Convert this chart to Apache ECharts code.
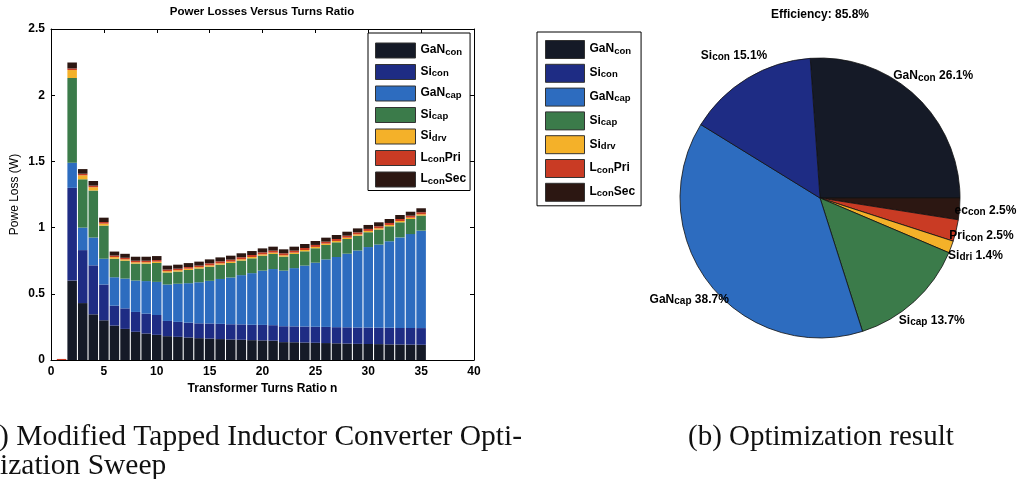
<!DOCTYPE html>
<html><head><meta charset="utf-8">
<script src="https://cdn.jsdelivr.net/npm/echarts@6/dist/echarts.min.js"></script>
<style>html,body{margin:0;padding:0;background:#fff;}#c{width:1026px;height:479px;}</style>
</head><body><div id="c"></div>
<script>
// ---- Data ----
const turnsRatio = [1,2,3,4,5,6,7,8,9,10,11,12,13,14,15,16,17,18,19,20,21,22,23,24,25,26,27,28,29,30,31,32,33,34,35];
const ganCon = [0,0.60,0.43,0.345,0.30,0.26,0.235,0.213,0.20,0.19,0.18,0.175,0.17,0.165,0.162,0.158,0.155,0.153,0.15,0.148,0.146,0.135,0.134,0.132,0.130,0.128,0.126,0.124,0.122,0.121,0.12,0.118,0.117,0.116,0.115];
const siCon = [0,0.70,0.40,0.37,0.27,0.15,0.155,0.15,0.15,0.15,0.115,0.113,0.112,0.112,0.114,0.115,0.115,0.116,0.116,0.117,0.117,0.12,0.12,0.121,0.121,0.122,0.122,0.123,0.123,0.124,0.124,0.125,0.125,0.126,0.126];
const ganCap = [0,0.19,0.17,0.21,0.195,0.215,0.225,0.237,0.246,0.25,0.275,0.288,0.298,0.31,0.322,0.339,0.353,0.372,0.39,0.41,0.424,0.42,0.44,0.46,0.484,0.51,0.53,0.556,0.582,0.608,0.628,0.654,0.684,0.709,0.736];
const siCap = [0,0.64,0.365,0.355,0.25,0.14,0.135,0.128,0.132,0.143,0.091,0.092,0.10,0.104,0.107,0.108,0.11,0.11,0.112,0.113,0.114,0.106,0.107,0.108,0.109,0.109,0.111,0.111,0.112,0.112,0.113,0.113,0.114,0.114,0.114];
const siDrv = [0,0.06,0.03,0.025,0.015,0.012,0.01,0.01,0.01,0.01,0.01,0.01,0.01,0.01,0.01,0.01,0.01,0.01,0.01,0.01,0.01,0.01,0.01,0.01,0.01,0.01,0.01,0.01,0.01,0.01,0.01,0.01,0.01,0.01,0.01];
const lConPri = [0.008,0.012,0.012,0.012,0.012,0.012,0.012,0.012,0.012,0.012,0.012,0.012,0.012,0.012,0.015,0.015,0.015,0.015,0.015,0.015,0.015,0.015,0.015,0.015,0.015,0.015,0.015,0.015,0.015,0.015,0.015,0.015,0.015,0.015,0.015];
const lConSec = [0,0.045,0.035,0.035,0.033,0.03,0.03,0.03,0.03,0.03,0.03,0.03,0.03,0.03,0.03,0.03,0.03,0.03,0.03,0.03,0.03,0.03,0.03,0.03,0.03,0.03,0.03,0.03,0.03,0.03,0.03,0.03,0.03,0.03,0.03];

// x positions 0..40 (labels every 5), y ticks
const xCategories = ['0','1','2','3','4','5','6','7','8','9','10','11','12','13','14','15','16','17','18','19','20','21','22','23','24','25','26','27','28','29','30','31','32','33','34','35','36','37','38','39','40'];
const yTicks = [0, 0.5, 1, 1.5, 2, 2.5];

const seriesNames = ['GaN con','Si con','GaN cap','Si cap','Si drv','L con Pri','L con Sec'];
const seriesArrays = [ganCon, siCon, ganCap, siCap, siDrv, lConPri, lConSec];
const legendRich = {
  'GaN con':'{b|GaN}{s|con}', 'Si con':'{b|Si}{s|con}', 'GaN cap':'{b|GaN}{s|cap}',
  'Si cap':'{b|Si}{s|cap}', 'Si drv':'{b|Si}{s|drv}', 'L con Pri':'{b|L}{s|con}{b|Pri}', 'L con Sec':'{b|L}{s|con}{b|Sec}'
};
const colors = {
  'GaN con':'#151a27','Si con':'#1e2c84','GaN cap':'#2d6cbf','Si cap':'#3b7b4a',
  'Si drv':'#f4b129','L con Pri':'#c93b24','L con Sec':'#2c1712'
};

// Pie (clockwise from top)
const pieNames = ['GaN con','L con Sec','L con Pri','Si drv','Si cap','GaN cap','Si con'];
const pieValues = [26.1, 2.5, 2.5, 1.4, 13.7, 38.7, 15.1];
const pieLabelMain = ['GaN','ec','Pri','Si','Si','GaN','Si'];
const pieLabelSub = ['con','con','con','dri','cap','cap','con'];
const efficiencyText = 'Efficiency: 85.8%';

const FONT = 'Liberation Sans, Arial, Helvetica, sans-serif';
const rich = {
  b:{fontFamily:FONT,fontSize:12,fontWeight:'bold',color:'#000',lineHeight:13,verticalAlign:'top'},
  s:{fontFamily:FONT,fontSize:9.5,fontWeight:'bold',color:'#000',lineHeight:10,verticalAlign:'bottom',padding:[10,0,0,0]}
};
const richPie = {
  b:{fontFamily:FONT,fontSize:12,fontWeight:'bold',color:'#000',lineHeight:13,verticalAlign:'top'},
  s:{fontFamily:FONT,fontSize:10,fontWeight:'bold',color:'#000',lineHeight:10,verticalAlign:'bottom',padding:[10,0,0,0]}
};

const chart = echarts.init(document.getElementById('c'), null, {renderer:'canvas'});

const barSeries = seriesNames.map((nm, k) => ({
  name: nm, type:'bar', stack:'loss', xAxisIndex:0, yAxisIndex:0,
  barWidth:'90%', itemStyle:{color: colors[nm]},
  data: turnsRatio.map((n, i) => [String(n), seriesArrays[k][i]]),
  silent:true
}));

const axisLabelStyle = {color:'#000', fontFamily:FONT, fontSize:12, fontWeight:'bold'};

const option = {
  animation:false,
  backgroundColor:'#fff',
  grid:{left:51, right:552, top:29, bottom:119},
  xAxis:[
    {type:'category', data:xCategories, boundaryGap:false, position:'bottom',
     axisLine:{show:true,onZero:false,lineStyle:{color:'#000',width:1}},
     axisTick:{show:true,inside:true,length:4,interval:4,lineStyle:{color:'#000'}},
     axisLabel:{...axisLabelStyle, margin:6, interval:4},
     splitLine:{show:false},
     name:'Transformer Turns Ratio n', nameLocation:'middle', nameGap:21,
     nameTextStyle:{color:'#000',fontFamily:FONT,fontSize:12,fontWeight:'bold'}},
    {type:'category', data:xCategories, boundaryGap:false, position:'top',
     axisLine:{show:true,onZero:false,lineStyle:{color:'#000',width:1}},
     axisTick:{show:true,inside:true,length:4,interval:4,lineStyle:{color:'#000'}},
     axisLabel:{show:false}, splitLine:{show:false}}
  ],
  yAxis:[
    {type:'value', min:yTicks[0], max:yTicks[yTicks.length-1], interval:0.5, position:'left',
     axisLine:{show:true,lineStyle:{color:'#000',width:1}},
     axisTick:{show:true,inside:true,length:4,lineStyle:{color:'#000'}},
     axisLabel:{...axisLabelStyle, margin:6},
     splitLine:{show:false},
     name:'Powe Loss (W)', nameLocation:'middle', nameGap:30,
     nameTextStyle:{color:'#000',fontFamily:FONT,fontSize:12}},
    {type:'value', min:yTicks[0], max:yTicks[yTicks.length-1], interval:0.5, position:'right',
     axisLine:{show:true,lineStyle:{color:'#000',width:1}},
     axisTick:{show:true,inside:true,length:4,lineStyle:{color:'#000'}},
     axisLabel:{show:false}, splitLine:{show:false}}
  ],
  legend:[
    {orient:'vertical', left:368, top:33, icon:'rect', itemWidth:40, itemHeight:15, itemGap:0,
     padding:[4,4,3,7], borderColor:'#000', borderWidth:1, backgroundColor:'#fff', selectedMode:false,
     data: seriesNames.map(nm => ({name:nm, itemStyle:{color:colors[nm], borderColor:'#333', borderWidth:1}})),
     formatter: nm => legendRich[nm], textStyle:{rich:rich}},
    {orient:'vertical', left:537, top:32, icon:'rect', itemWidth:39, itemHeight:18, itemGap:0.8,
     padding:[4,6,4,8], borderColor:'#000', borderWidth:1, backgroundColor:'#fff', selectedMode:false,
     data: seriesNames.map(nm => ({name:nm, itemStyle:{color:colors[nm], borderColor:'#333', borderWidth:1}})),
     formatter: nm => legendRich[nm], textStyle:{rich:rich}}
  ],
  graphic:[
    {type:'text', x:262, y:12, style:{text:'Power Losses Versus Turns Ratio', align:'center', verticalAlign:'middle', font:'bold 11.5px '+FONT, fill:'#000'}},
    {type:'text', x:820, y:15, style:{text:efficiencyText, align:'center', verticalAlign:'middle', font:'bold 12px '+FONT, fill:'#000'}},
    {type:'text', x:-1, y:437, style:{text:') Modified Tapped Inductor Converter Opti-', align:'left', verticalAlign:'middle', font:'29.5px "Liberation Serif", "Times New Roman", serif', fill:'#111'}},
    {type:'text', x:0, y:466, style:{text:'ization Sweep', align:'left', verticalAlign:'middle', font:'29.5px "Liberation Serif", "Times New Roman", serif', fill:'#111'}},
    {type:'text', x:688, y:437, style:{text:'(b) Optimization result', align:'left', verticalAlign:'middle', font:'29px "Liberation Serif", "Times New Roman", serif', fill:'#111'}}
  ],
  series: barSeries.concat([
    {type:'pie', name:'pie', center:[820,198], radius:140, startAngle:94, clockwise:true, silent:true,
     label:{show:false}, labelLine:{show:false},
     itemStyle:{borderColor:'#111', borderWidth:0.8},
     data: pieNames.map((nm,i)=>({name:nm, value:pieValues[i], itemStyle:{color:colors[nm]}}))},
    {type:'pie', name:'pieLabels', center:[820,198], radius:[152,174], startAngle:94, clockwise:true, silent:true, z:5,
     avoidLabelOverlap:false, labelLayout:{hideOverlap:false, moveOverlap:false},
     itemStyle:{color:'rgba(0,0,0,0)'}, labelLine:{show:false},
     label:{show:true, position:'inside', color:'#000', rich:richPie,
       formatter: p => '{b|' + pieLabelMain[p.dataIndex] + '}{s|' + pieLabelSub[p.dataIndex] + '}{b| ' + pieValues[p.dataIndex].toFixed(1) + '%}'},
     data: pieNames.map((nm,i)=>({name:nm, value:pieValues[i]}))}
  ])
};
chart.setOption(option);
</script></body></html>
